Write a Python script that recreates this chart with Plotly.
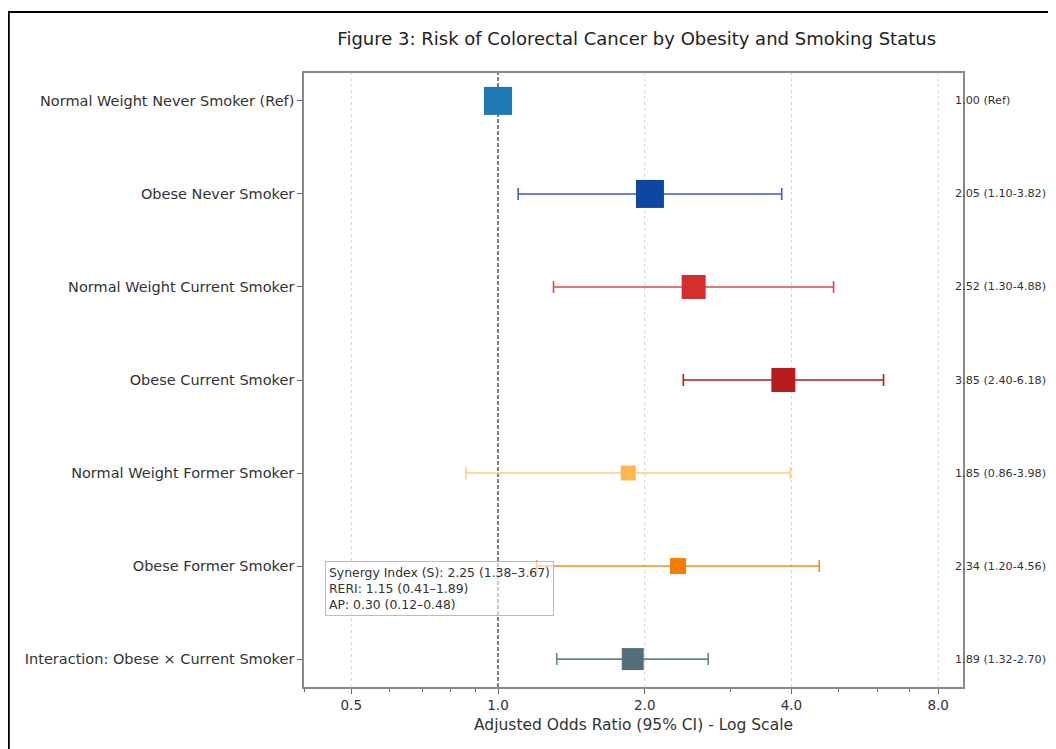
import plotly.graph_objects as go

categories = [
    "Normal Weight Never Smoker (Ref)",
    "Obese Never Smoker",
    "Normal Weight Current Smoker",
    "Obese Current Smoker",
    "Normal Weight Former Smoker",
    "Obese Former Smoker",
    "Interaction: Obese \u00d7 Current Smoker",
]
odds_ratio = [1.00, 2.05, 2.52, 3.85, 1.85, 2.34, 1.89]
ci_lower = [1.00, 1.10, 1.30, 2.40, 0.86, 1.20, 1.32]
ci_upper = [1.00, 3.82, 4.88, 6.18, 3.98, 4.56, 2.70]
is_reference = [True, False, False, False, False, False, False]

x_tick_vals = [0.5, 1.0, 2.0, 4.0, 8.0]
x_tick_text = ["0.5", "1.0", "2.0", "4.0", "8.0"]
minor_tick_vals = [0.4, 0.6, 0.7, 0.8, 0.9, 3.0, 5.0, 6.0, 7.0, 9.0]
reference_value = 1.0

synergy_lines = [
    "Synergy Index (S): 2.25 (1.38\u20133.67)",
    "RERI: 1.15 (0.41\u20131.89)",
    "AP: 0.30 (0.12\u20130.48)",
]

# styles
marker_colors = ["#1f77b4", "#0d47a1", "#d32f2f", "#b71c1c", "#ffb74d", "#f57c00", "#546e7a"]
bar_colors = ["#1f77b4", "#3d5ec4", "#d94848", "#b71c1c", "#ffcc80", "#f68a26", "#6a8390"]
marker_sizes = [28, 28, 24, 24, 15, 16, 22]

FONT = "DejaVu Sans"

fig = go.Figure()

# dotted grid lines (except at the reference line)
for v in x_tick_vals:
    if v == reference_value:
        continue
    fig.add_shape(type="line", xref="x", yref="paper", x0=v, x1=v, y0=0, y1=1,
                  line=dict(color="#d4d4d4", width=1, dash="dot"), layer="below")

# reference line at OR = 1
fig.add_shape(type="line", xref="x", yref="paper", x0=reference_value, x1=reference_value,
              y0=0, y1=1, line=dict(color="#555555", width=1.5, dash="4px,2px"), layer="below")

for i, cat in enumerate(categories):
    err = dict(
        type="data", symmetric=False,
        array=[ci_upper[i] - odds_ratio[i]],
        arrayminus=[odds_ratio[i] - ci_lower[i]],
        color=bar_colors[i], thickness=1.6, width=6,
        visible=not is_reference[i],
    )
    fig.add_trace(go.Scatter(
        x=[odds_ratio[i]], y=[cat], mode="markers",
        marker=dict(symbol="square", size=marker_sizes[i], color=marker_colors[i],
                    line=dict(width=0)),
        error_x=err, showlegend=False, cliponaxis=False,
    ))

# right-hand labels
for i, cat in enumerate(categories):
    if is_reference[i]:
        txt = f"{odds_ratio[i]:.2f} (Ref)"
    else:
        txt = f"{odds_ratio[i]:.2f} ({ci_lower[i]:.2f}-{ci_upper[i]:.2f})"
    fig.add_annotation(x=0.985, xref="paper", y=cat, yref="y", text=txt,
                       showarrow=False, xanchor="left", yanchor="middle",
                       font=dict(family=FONT, size=11.2, color="#333333"))

# synergy box
fig.add_annotation(
    x=0.032, xref="paper", y=0.206, yref="paper",
    text="<br>".join(synergy_lines), showarrow=False, align="left",
    xanchor="left", yanchor="top",
    font=dict(family=FONT, size=12.4, color="#333333"),
    bgcolor="rgba(255,255,255,0.6)", bordercolor="#bbbbbb", borderwidth=1, borderpad=3,
)

# outer frame
fig.add_shape(type="rect", xref="paper", yref="paper", x0=-0.448, x1=2, y0=-1, y1=1.0993,
              line=dict(color="black", width=2), fillcolor="rgba(0,0,0,0)", layer="above")

fig.update_layout(
    width=1048, height=741,
    margin=dict(l=296, r=93, t=65, b=62),
    paper_bgcolor="white", plot_bgcolor="white",
    font=dict(family=FONT, color="#333333"),
    title=dict(text="Figure 3: Risk of Colorectal Cancer by Obesity and Smoking Status",
               x=0.5999, xanchor="center", y=0.958, yanchor="middle",
               font=dict(family=FONT, size=18, color="#222222")),
)
fig.update_xaxes(
    type="log", range=[-0.398, 0.954],
    tickvals=x_tick_vals, ticktext=x_tick_text,
    ticks="outside", ticklen=5, tickcolor="#666666",
    tickfont=dict(family=FONT, size=13.5, color="#333333"),
    showgrid=False,
    minor=dict(tickvals=minor_tick_vals, ticks="outside", ticklen=3, tickcolor="#666666",
               showgrid=False),
    showline=True, linecolor="#888888", linewidth=1.5, mirror=True,
    zeroline=False,
    title=dict(text="Adjusted Odds Ratio (95% CI) - Log Scale", standoff=7,
               font=dict(family=FONT, size=15.5, color="#333333")),
)
fig.update_yaxes(
    type="category", categoryorder="array", categoryarray=categories,
    range=[6.3, -0.3],
    ticks="outside", ticklen=5, tickcolor="#666666",
    tickfont=dict(family=FONT, size=14.5, color="#333333"),
    showgrid=False, showline=True, linecolor="#888888", linewidth=1.5, mirror=True,
    zeroline=False,
)

fig.write_html("out.html")
